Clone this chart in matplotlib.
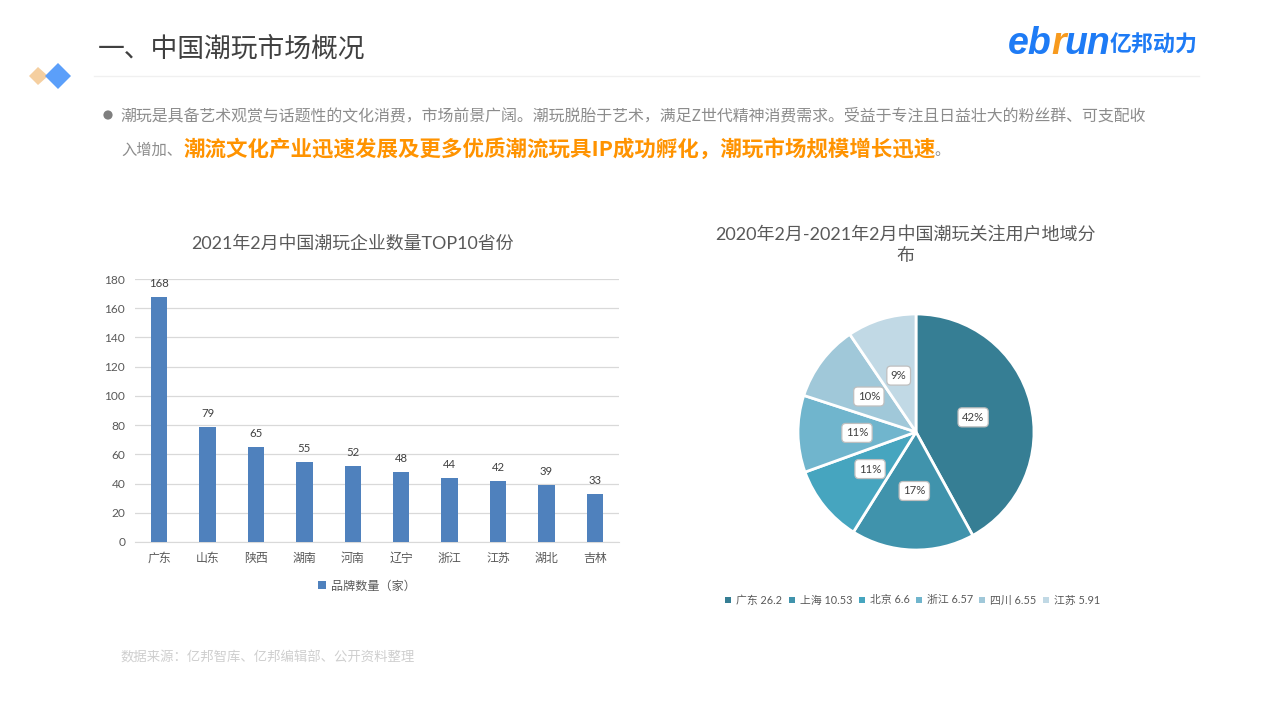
import math
import matplotlib
matplotlib.use("Agg")
import matplotlib.pyplot as plt
from matplotlib.patches import Polygon, Circle, Rectangle

plt.rcParams['font.family'] = ['Noto Sans CJK SC', 'DejaVu Sans']
chart_font = ['Lato', 'Noto Sans CJK SC']

provinces = ['广东', '山东', '陕西', '湖南', '河南', '辽宁', '浙江', '江苏', '湖北', '吉林']
brand_counts = [168, 79, 65, 55, 52, 48, 44, 42, 39, 33]
y_ticks = [0, 20, 40, 60, 80, 100, 120, 140, 160, 180]
bar_legend = '品牌数量（家）'
bar_title = '2021年2月中国潮玩企业数量TOP10省份'

pie_names = ['广东', '上海', '北京', '浙江', '四川', '江苏']
pie_values = [26.2, 10.53, 6.6, 6.57, 6.55, 5.91]
pie_labels = ['42%', '17%', '11%', '11%', '10%', '9%']
pie_colors = ['#367E94', '#4093AC', '#46A5BF', '#70B5CD', '#A0C8D9', '#C1D9E5']
pie_title = '2020年2月-2021年2月中国潮玩关注用户地域分\n布'

W, H = 1279, 719
fig = plt.figure(figsize=(W / 100, H / 100), dpi=100, facecolor='white')

bg = fig.add_axes([0, 0, 1, 1])
bg.set_xlim(0, W)
bg.set_ylim(H, 0)
bg.axis('off')

def axes_px(x0, y0, x1, y1):
    return fig.add_axes([x0 / W, 1 - y1 / H, (x1 - x0) / W, (y1 - y0) / H])

# Header
bg.text(98, 49, '一、中国潮玩市场概况', fontsize=19.3, color='#404040', va='center', ha='left', fontweight='medium')
bg.plot([94, 1199], [76, 76], color='#F0F0F0', lw=1)
bg.add_patch(Polygon([[29, 76], [38, 67], [48, 76], [38, 85]], color='#F5CFA0', lw=0))
bg.add_patch(Polygon([[45, 76], [58, 63], [71, 76], [58, 89]], color='#5B9FFA', lw=0))

# Logo
logo_kw = dict(fontsize=27, style='italic', fontweight='bold', family='Liberation Sans', va='baseline', ha='left')
bg.text(1008, 54, 'eb', color='#1E7BF5', **logo_kw)
bg.text(1051, 54, 'r', color='#F79A1E', **logo_kw)
bg.text(1064, 54, 'un', color='#1E7BF5', **logo_kw)
bg.text(1110, 45, '亿邦动力', fontsize=15.8, color='#1E7BF5', fontweight='bold', va='center', ha='left')

# Body
bg.add_patch(Circle((108, 115), 4.6, color='#7F7F7F', lw=0))
bg.text(120, 116, '潮玩是具备艺术观赏与话题性的文化消费，市场前景广阔。潮玩脱胎于艺术，满足Z世代精神消费需求。受益于专注且日益壮大的粉丝群、可支配收',
        fontsize=11.48, color='#8C8C8C', va='center', ha='left')
bg.text(121, 150, '入增加、', fontsize=11.0, color='#8C8C8C', va='center', ha='left')
bg.text(184, 149, '潮流文化产业迅速发展及更多优质潮流玩具IP成功孵化，潮玩市场规模增长迅速',
        fontsize=15.45, color='#FF9300', va='center', ha='left', fontweight='bold')
bg.text(934, 150, '。', fontsize=11, color='#8C8C8C', va='center', ha='left')

# Footer
bg.text(120, 658, '数据来源：亿邦智库、亿邦编辑部、公开资料整理', fontsize=9.65, color='#CFCFCF', va='center', ha='left')

# Bar chart
ax = axes_px(135, 279, 619, 542)
ax.set_xlim(-0.5, len(provinces) - 0.5)
ax.set_ylim(0, 180)
ax.bar(range(len(provinces)), brand_counts, width=0.34, color='#4F81BD', zorder=3)
ax.set_yticks(y_ticks)
ax.set_xticks(range(len(provinces)))
ax.set_xticklabels(provinces)
ax.tick_params(axis='both', length=0, labelcolor='#595959', labelsize=8.6)
ax.tick_params(axis='x', pad=7)
ax.tick_params(axis='y', pad=7)
for t in ax.get_yticklabels():
    t.set_family(chart_font)
ax.grid(axis='y', color='#D9D9D9', lw=0.9, zorder=0)
for side in ['top', 'right', 'left']:
    ax.spines[side].set_visible(False)
ax.spines['bottom'].set_color('#D9D9D9')
for i, v in enumerate(brand_counts):
    ax.annotate(str(v), (i, v), xytext=(0, 5.5), textcoords='offset points', ha='center', va='bottom',
                fontsize=8.2, color='#404040', family=chart_font)
bg.text(352, 243, bar_title, fontsize=12.9, color='#595959', ha='center', va='center', family=chart_font)
bg.add_patch(Rectangle((318, 581), 8, 8, color='#4F81BD', lw=0))
bg.text(331, 586, bar_legend, fontsize=8.7, color='#595959', va='center', ha='left')

# Pie chart
pax = axes_px(916 - 118, 432 - 118, 916 + 118, 432 + 118)
pax.pie(pie_values, colors=pie_colors, startangle=90, counterclock=False, radius=1,
        wedgeprops=dict(edgecolor='white', linewidth=2))
pax.set_xlim(-1, 1)
pax.set_ylim(-1, 1)
cum = 0
total = sum(pie_values)
for val, lab in zip(pie_values, pie_labels):
    mid = math.radians(90 - 360 * (cum + val / 2) / total)
    cum += val
    pax.text(0.5 * math.cos(mid), 0.5 * math.sin(mid), lab, fontsize=8.2, color='#404040', ha='center', va='center',
             family=chart_font,
             bbox=dict(boxstyle='round,pad=0.35', fc='white', ec='#BFBFBF', lw=0.9), zorder=5)
bg.text(905, 245, pie_title, fontsize=13, color='#595959', ha='center', va='center', linespacing=1.4, family=chart_font)

# Pie legend
legend_x = [725, 789, 859, 916, 979, 1043]
for x, name, val, col in zip(legend_x, pie_names, pie_values, pie_colors):
    bg.add_patch(Rectangle((x, 597), 6, 6, color=col, lw=0))
    bg.text(x + 11, 600, f'{name} {val:g}', fontsize=7.8, color='#595959', va='center', ha='left', family=chart_font)

fig.savefig('out.png', dpi=100, facecolor='white')
